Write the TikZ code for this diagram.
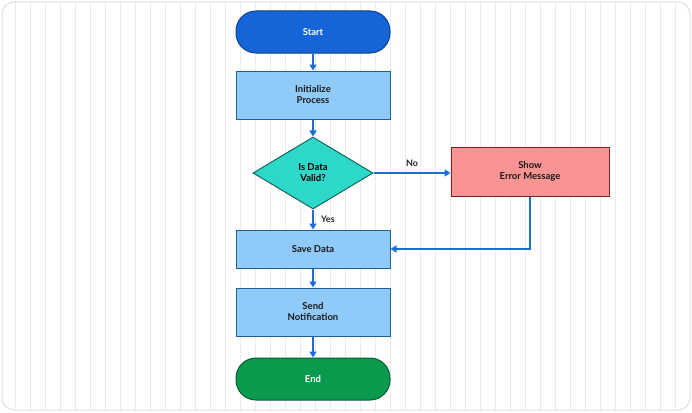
\documentclass[tikz,border=0pt]{standalone}
\usepackage{fontspec}
\setmainfont{Lato}
\usetikzlibrary{shapes.geometric,arrows.meta}
\definecolor{startc}{HTML}{1565D8}
\definecolor{startb}{HTML}{0D3F8F}
\definecolor{procf}{HTML}{90CAF9}
\definecolor{procb}{HTML}{1E5F9E}
\definecolor{decf}{HTML}{2ED8C8}
\definecolor{decb}{HTML}{11665F}
\definecolor{errf}{HTML}{F99494}
\definecolor{errb}{HTML}{8B2020}
\definecolor{endf}{HTML}{0A9A4E}
\definecolor{endb}{HTML}{0A5A30}
\definecolor{arr}{HTML}{1A6ED8}
\begin{document}
\begin{tikzpicture}[x=1pt,y=-1pt,font=\bfseries\fontsize{9.5}{11}\selectfont,
  term/.style={rounded corners=20pt,minimum width=154pt,minimum height=42pt,line width=1pt,text=white},
  proc/.style={draw=procb,fill=procf,minimum width=154pt,line width=1pt,align=center,text=black!90},
  con/.style={draw=arr,line width=1.6pt,-{Triangle[length=6pt,width=7pt]}},
  lab/.style={font=\bfseries\fontsize{9}{10}\selectfont,text=black!85}]
\useasboundingbox (0,0) rectangle (692,412);
\fill[white] (0,0) rectangle (692,412);
\begin{scope}
\clip[rounded corners=12pt] (2,2) rectangle (690,410);
\draw[black!8,line width=0.4pt,step=15] (0,0) grid (692,412);
\end{scope}
\draw[black!12,line width=1pt,rounded corners=12pt] (2,2) rectangle (690,410);
\node[term,draw=startb,fill=startc] (s) at (313,32) {Start};
\node[proc,minimum height=48pt] (i) at (313,95) {Initialize\\Process};
\node[diamond,draw=decb,fill=decf,line width=1pt,minimum width=120pt,minimum height=72pt,inner sep=0pt,align=center,aspect=1.67] (d) at (313,173) {Is Data\\Valid?};
\node[draw=errb,fill=errf,line width=1pt,minimum width=158pt,minimum height=49pt,align=center,text=black!90] (e) at (530,171.5) {Show\\Error Message};
\node[proc,minimum height=38pt] (sv) at (313,249) {Save Data};
\node[proc,minimum height=48pt] (n) at (313,312) {Send\\Notification};
\node[term,draw=endb,fill=endf] (en) at (313,379) {End};
\draw[con] (s) -- (i);
\draw[con] (i) -- (d);
\draw[con] (d.east) -- (e.west|-d.east) node[lab,midway,above=2pt] {No};
\draw[con] (d) -- (sv) node[lab,midway,right=4pt] {Yes};
\draw[con] (e.south) |- (sv.east);
\draw[con] (sv) -- (n);
\draw[con] (n) -- (en);
\end{tikzpicture}
\end{document}
